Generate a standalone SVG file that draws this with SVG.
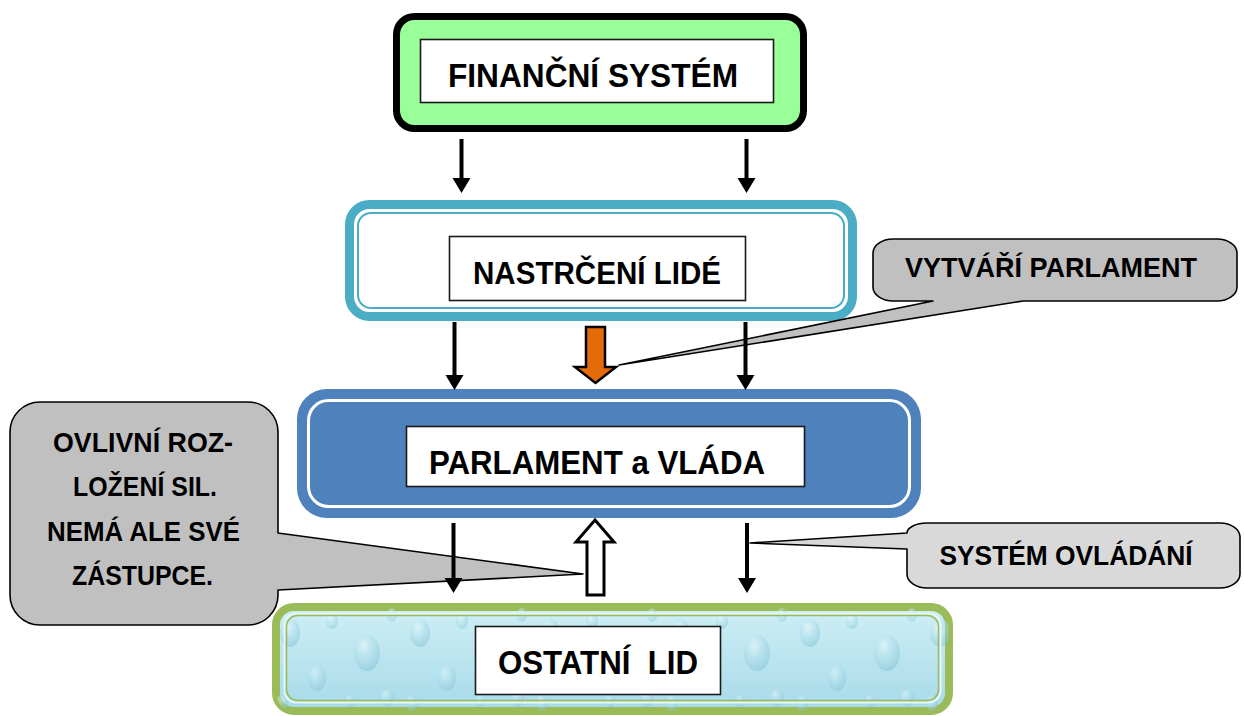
<svg xmlns="http://www.w3.org/2000/svg" width="1244" height="716" viewBox="0 0 1244 716">
<defs>
<style>
.t{font-family:"Liberation Sans",Arial,sans-serif;font-weight:bold;fill:#000;text-anchor:middle;white-space:pre}
.lbl{fill:#fff;stroke:#1a1a1a;stroke-width:1.6}
.call{stroke:#000;stroke-width:1.6;stroke-linejoin:round}
.arr{stroke:#000;stroke-width:4;fill:none}
</style>
<marker id="ah" markerUnits="userSpaceOnUse" markerWidth="15" markerHeight="18" refX="3" refY="9" orient="auto" overflow="visible">
<path d="M0,0 L15,9 L0,18 Z" fill="#000"/>
</marker>
<linearGradient id="water" x1="0" y1="0" x2="0" y2="1">
<stop offset="0" stop-color="#CFEFF6"/>
<stop offset="1" stop-color="#A6DAE8"/>
</linearGradient>
<radialGradient id="drop" cx="0.38" cy="0.3" r="0.75">
<stop offset="0" stop-color="#F2FCFE"/>
<stop offset="0.45" stop-color="#B3E0EC"/>
<stop offset="1" stop-color="#7EBFD3"/>
</radialGradient>
<pattern id="drops" patternUnits="userSpaceOnUse" width="130" height="112" x="272" y="603">
<ellipse cx="18" cy="30" rx="10" ry="14" fill="url(#drop)" opacity="0.5"/>
<ellipse cx="60" cy="18" rx="6" ry="8" fill="url(#drop)" opacity="0.45"/>
<ellipse cx="95" cy="50" rx="13" ry="18" fill="url(#drop)" opacity="0.5"/>
<ellipse cx="45" cy="75" rx="9" ry="13" fill="url(#drop)" opacity="0.45"/>
<ellipse cx="115" cy="95" rx="7" ry="9" fill="url(#drop)" opacity="0.45"/>
<ellipse cx="78" cy="98" rx="5" ry="6" fill="url(#drop)" opacity="0.4"/>
<ellipse cx="10" cy="100" rx="6" ry="8" fill="url(#drop)" opacity="0.4"/>
<ellipse cx="120" cy="12" rx="5" ry="7" fill="url(#drop)" opacity="0.4"/>
</pattern>
</defs>

<g id="financni-system">
<rect x="396.5" y="16.5" width="407" height="112" rx="18" fill="#99FF99" stroke="#000" stroke-width="7"/>
<rect class="lbl" x="420.5" y="39.5" width="353" height="63"/>
<text class="t" x="593" y="87" font-size="34" textLength="290" lengthAdjust="spacingAndGlyphs">FINANČNÍ SYSTÉM</text>
</g>

<g id="nastrceni-lide">
<rect x="349.5" y="204.5" width="503" height="112" rx="20" fill="#fff" stroke="#4BACC6" stroke-width="9"/>
<rect x="358" y="213" width="486" height="95" rx="13" fill="none" stroke="#4BACC6" stroke-width="2"/>
<rect class="lbl" x="449.5" y="236.5" width="296" height="64"/>
<text class="t" x="597" y="284" font-size="31" textLength="248" lengthAdjust="spacingAndGlyphs">NASTRČENÍ LIDÉ</text>
</g>

<g id="parlament-a-vlada">
<rect x="297" y="389" width="624" height="129" rx="30" fill="#4F81BD"/>
<rect x="308.5" y="400.5" width="601" height="106" rx="20" fill="none" stroke="#fff" stroke-width="3"/>
<rect class="lbl" x="406.5" y="426.5" width="398" height="60"/>
<text class="t" x="597" y="474" font-size="33" textLength="336" lengthAdjust="spacingAndGlyphs">PARLAMENT a VLÁDA</text>
</g>

<g id="ostatni-lid">
<rect x="276" y="607" width="673" height="104" rx="18" fill="url(#water)" stroke="#9BBB59" stroke-width="8"/>
<rect x="276" y="607" width="673" height="104" rx="18" fill="url(#drops)"/>
<rect x="284.5" y="613.5" width="656" height="89" rx="12" fill="none" stroke="#E6F6F9" stroke-width="2"/>
<rect x="286.5" y="615.5" width="652" height="85" rx="11" fill="none" stroke="#9BBB59" stroke-width="1.5"/>
<rect class="lbl" x="475.5" y="626.5" width="245" height="68" stroke-width="2"/>
<text class="t" x="598" y="674" font-size="33" textLength="200" lengthAdjust="spacingAndGlyphs">OSTATNÍ  LID</text>
</g>

<g id="callout-vytvari-parlament">
<path class="call" fill="#C0C0C0" d="M893,239 H1217 A20,14 0 0 1 1237,253 V287 A20,14 0 0 1 1217,301 H1023 L619,365 L933,301 H893 A20,14 0 0 1 873,287 V253 A20,14 0 0 1 893,239 Z"/>
<text class="t" x="1051" y="277" font-size="28" textLength="292" lengthAdjust="spacingAndGlyphs">VYTVÁŘÍ PARLAMENT</text>
</g>

<g id="callout-system-ovladani">
<path class="call" fill="#D9D9D9" d="M927,523 H1220 A20,14 0 0 1 1240,537 V574 A20,14 0 0 1 1220,588 H927 A20,14 0 0 1 907,574 V549 L750,543 L907,533 A20,10 0 0 1 927,523 Z"/>
<text class="t" x="1066" y="565" font-size="28" textLength="253" lengthAdjust="spacingAndGlyphs">SYSTÉM OVLÁDÁNÍ</text>
</g>

<g id="callout-ovlivni">
<path class="call" fill="#C0C0C0" d="M40,402 H248 A30,30 0 0 1 278,432 V533 L583,574 L278,590 V595 A30,30 0 0 1 248,625 H40 A30,30 0 0 1 10,595 V432 A30,30 0 0 1 40,402 Z"/>
<text class="t" x="143" y="452" font-size="28" textLength="180" lengthAdjust="spacingAndGlyphs">OVLIVNÍ ROZ-</text>
<text class="t" x="145" y="496" font-size="28" textLength="144" lengthAdjust="spacingAndGlyphs">LOŽENÍ SIL.</text>
<text class="t" x="143.5" y="541" font-size="28" textLength="193" lengthAdjust="spacingAndGlyphs">NEMÁ ALE SVÉ</text>
<text class="t" x="142.5" y="585" font-size="28" textLength="141" lengthAdjust="spacingAndGlyphs">ZÁSTUPCE.</text>
</g>

<g id="connectors">
<line class="arr" x1="461.5" y1="139" x2="461.5" y2="181" marker-end="url(#ah)"/>
<line class="arr" x1="746.5" y1="139" x2="746.5" y2="181" marker-end="url(#ah)"/>
<line class="arr" x1="454.5" y1="322" x2="454.5" y2="378" marker-end="url(#ah)"/>
<line class="arr" x1="745.5" y1="322" x2="745.5" y2="378" marker-end="url(#ah)"/>
<line class="arr" x1="453.5" y1="523" x2="453.5" y2="581" marker-end="url(#ah)"/>
<line class="arr" x1="747" y1="523" x2="747" y2="581" marker-end="url(#ah)"/>
<path d="M586,327 H605 V367 H616 L595.5,383 L575,367 H586 Z" fill="#E36C09" stroke="#000" stroke-width="2.5" stroke-linejoin="miter"/>
<path d="M595,520 L614,542 H604 V595 H587 V542 H576 Z" fill="#fff" stroke="#000" stroke-width="3" stroke-linejoin="miter"/>
</g>
</svg>
